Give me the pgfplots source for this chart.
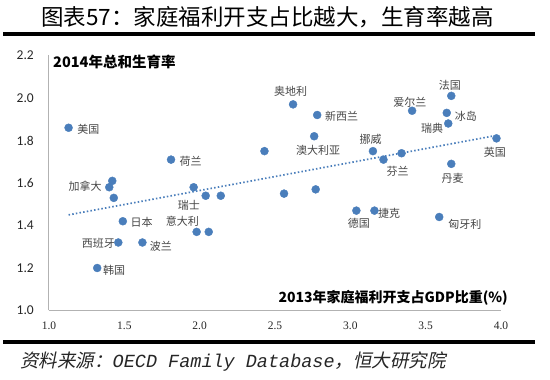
\documentclass[border=0pt]{standalone}
\usepackage{pgfplots}
\pgfplotsset{compat=1.18}
\usepackage{fontspec}
\setmainfont{Liberation Serif}
\newfontfamily\cjk{Noto Sans CJK SC}
\newfontfamily\cjkit{Noto Sans CJK SC}[FakeSlant=0.2]
\newfontfamily\monoit{Liberation Mono Italic}
\newfontfamily\calibri{Carlito}
\definecolor{dotblue}{RGB}{74,126,187}
\definecolor{lbl}{RGB}{70,70,70}
\begin{document}
\begin{tikzpicture}
\begin{axis}[
  at={(49bp,69.5bp)}, anchor=south west,
  width=452bp, height=255bp, scale only axis,
  xmin=1, xmax=4, ymin=1, ymax=2.2,
  axis x line=bottom, axis y line=left,
  axis line style={draw=black!30, line width=1bp, -},
  major tick length=0pt,
  xtick={1,1.5,2,2.5,3,3.5,4},
  ytick={1,1.2,1.4,1.6,1.8,2,2.2},
  xticklabel style={/pgf/number format/fixed, /pgf/number format/fixed zerofill, /pgf/number format/precision=1,
    font=\fontsize{11.5bp}{13bp}\selectfont, anchor=north, inner sep=0pt, yshift=-11bp, text=black!85},
  yticklabel style={/pgf/number format/fixed, /pgf/number format/fixed zerofill, /pgf/number format/precision=1,
    font=\calibri\fontsize{13.5bp}{15bp}\selectfont, anchor=east, inner sep=0pt, xshift=-15bp, text=black!85},
  /pgf/number format/assume math mode=true,
  clip=false,
]
\addplot[only marks, mark=*, mark size=4bp, mark options={fill=dotblue, draw=dotblue}] table {
x y
1.13 1.86
1.81 1.71
1.42 1.61
1.40 1.58
1.43 1.53
1.49 1.42
1.46 1.32
1.62 1.32
1.32 1.20
1.96 1.58
2.04 1.54
2.14 1.54
1.98 1.37
2.06 1.37
2.43 1.75
2.56 1.55
2.77 1.57
3.04 1.47
3.16 1.47
3.59 1.44
3.67 1.69
3.22 1.71
2.62 1.97
2.78 1.92
2.76 1.82
3.15 1.75
3.34 1.74
3.41 1.94
3.67 2.01
3.64 1.93
3.65 1.88
3.97 1.81
};
\addplot[no marks, dotblue, line width=1.7bp, dash pattern=on 1.5bp off 2.2bp] coordinates {(1.13,1.45) (3.94,1.82)};
\begin{scope}[every node/.style={font=\cjk\fontsize{11bp}{12bp}\selectfont, text=lbl, inner sep=0pt}]
\node at (axis cs:1.261,1.853) {美国};
\node at (axis cs:1.940,1.700) {荷兰};
\node at (axis cs:1.239,1.586) {加拿大};
\node at (axis cs:1.615,1.413) {日本};
\node at (axis cs:1.327,1.316) {西班牙};
\node at (axis cs:1.743,1.304) {波兰};
\node at (axis cs:1.433,1.191) {韩国};
\node at (axis cs:1.929,1.493) {瑞士};
\node at (axis cs:1.885,1.418) {意大利};
\node at (axis cs:3.057,1.410) {德国};
\node at (axis cs:3.258,1.457) {捷克};
\node at (axis cs:3.760,1.407) {匈牙利};
\node at (axis cs:3.679,1.622) {丹麦};
\node at (axis cs:3.314,1.653) {芬兰};
\node at (axis cs:2.604,2.030) {奥地利};
\node at (axis cs:2.942,1.915) {新西兰};
\node at (axis cs:2.787,1.755) {澳大利亚};
\node at (axis cs:3.135,1.806) {挪威};
\node at (axis cs:3.395,1.978) {爱尔兰};
\node at (axis cs:3.661,2.061) {法国};
\node at (axis cs:3.767,1.912) {冰岛};
\node at (axis cs:3.543,1.857) {瑞典};
\node at (axis cs:3.959,1.744) {英国};
\end{scope}
\end{axis}
% axis titles
\node[anchor=west, inner sep=0pt, font=\cjk\bfseries\fontsize{14.5bp}{16bp}\selectfont] at (53bp,318.3bp) {2014年总和生育率};
\node[anchor=east, inner sep=0pt, font=\cjk\bfseries\fontsize{14bp}{16bp}\selectfont] at (508bp,82.5bp) {2013年家庭福利开支占GDP比重(\%)};
% title and rules
\node[inner sep=0pt, font=\cjk\fontsize{22.5bp}{24bp}\selectfont] at (267.5bp,362.5bp) {图表57：家庭福利开支占比越大，生育率越高};
\draw[line width=4bp] (3bp,346.3bp) -- (535bp,346.3bp);
\draw[line width=4bp] (3bp,38bp) -- (535bp,38bp);
\node[anchor=west, inner sep=0pt, font=\fontsize{18.5bp}{20bp}\selectfont, text=black!85] at (20bp,18bp) {\cjkit 资料来源：\monoit OECD Family Database\cjkit ，恒大研究院};
\pgfresetboundingbox
\path (0,0) rectangle (550bp,380bp);
\end{tikzpicture}
\end{document}
